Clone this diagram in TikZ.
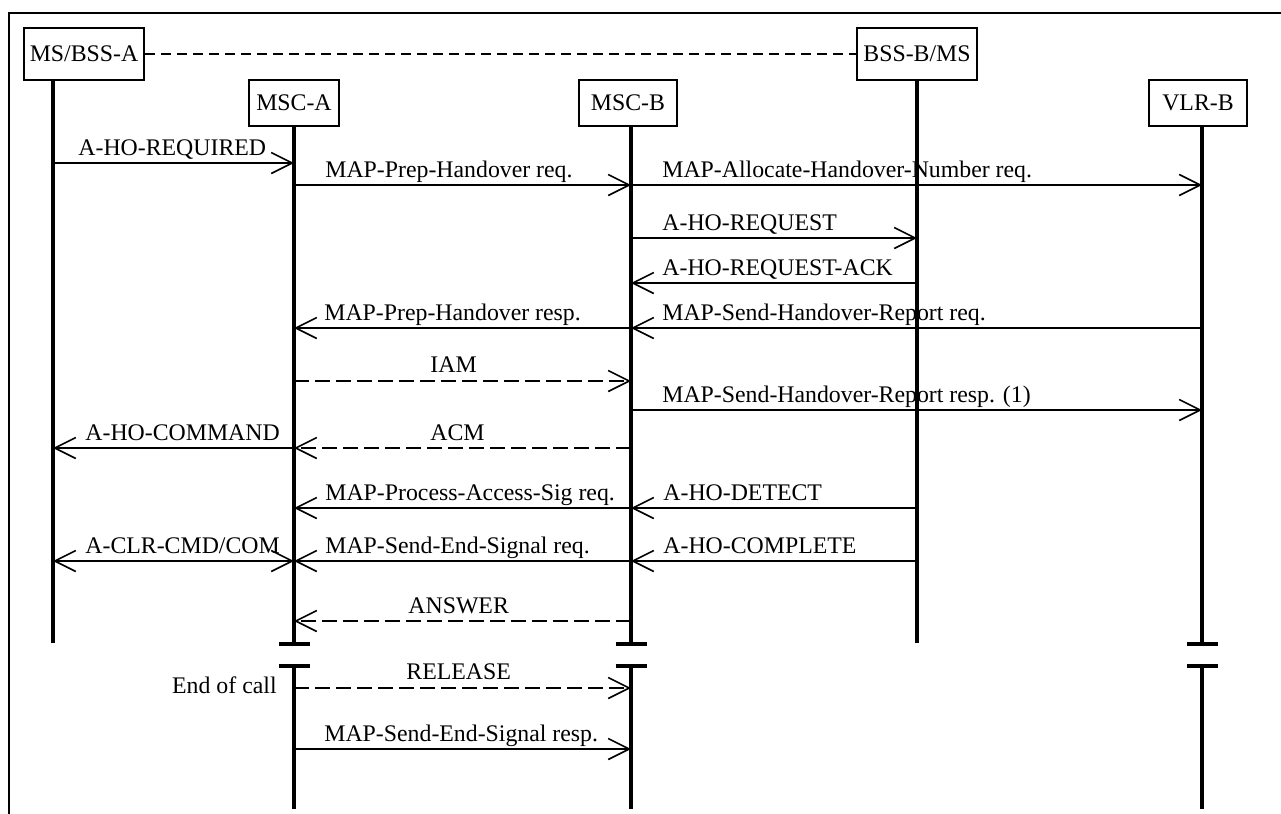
\documentclass[tikz,border=0pt]{standalone}
\usepackage{fontspec}
\setmainfont{Liberation Serif}
\usetikzlibrary{arrows.meta}
\begin{document}
\begin{tikzpicture}[x=0.5pt,y=-0.5pt,
  font=\fontsize{11.9}{14}\selectfont,
  ent/.style={draw,line width=1pt,inner sep=0pt,fill=white},
  bigent/.style={ent,minimum width=60pt,minimum height=26pt},
  smallent/.style={ent,minimum height=23pt},
  life/.style={line width=2.2pt,line cap=butt},
  bar/.style={line width=2pt,line cap=butt},
  barb/.tip={Straight Barb[length=10.5pt,width=10.5pt,line width=0.8pt]},
  msg/.style={line width=0.8pt,-barb},
  dmsg/.style={msg,dash pattern=on 7.5pt off 3pt},
  bimsg/.style={line width=0.8pt,barb-barb},
  lbl/.style={anchor=base west,inner sep=0pt}]
\useasboundingbox (0,0) rectangle (1281,814);
% frame
\draw[line width=0.9pt] (9,814) -- (9,13) -- (1281,13);
% entities
\node[bigent] (msa) at (84,54) {MS/BSS-A};
\node[smallent,minimum width=45pt] (mscA) at (294,103) {MSC-A};
\node[smallent,minimum width=49pt] (mscB) at (628,103) {MSC-B};
\node[bigent] (bssb) at (917,54) {BSS-B/MS};
\node[smallent,minimum width=49pt] (vlr) at (1198,103) {VLR-B};
\draw[line width=0.9pt,dash pattern=on 5pt off 3pt] (msa.east) -- (bssb.west);
% lifeline coordinates
\coordinate (LA) at (53,80);
\coordinate (LMA) at (294,126);
\coordinate (LMB) at (631,126);
\coordinate (LBB) at (917,80);
\coordinate (LV) at (1202,126);
\coordinate (EA) at (53,643);
\coordinate (EBB) at (917,643);
\coordinate (BMA1) at (294,644);
\coordinate (BMB1) at (631,644);
\coordinate (BV1) at (1202,644);
\coordinate (BMA2) at (294,666);
\coordinate (BMB2) at (631,666);
\coordinate (BV2) at (1202,666);
\coordinate (FMA) at (294,809);
\coordinate (FMB) at (631,809);
\coordinate (FV) at (1202,809);
% labels
\node[lbl] (t1) at (78,155) {A-HO-REQUIRED};
\node[lbl] (t2) at (325,177) {MAP-Prep-Handover req.};
\node[lbl] (t3) at (662,177) {MAP-Allocate-Handover-Number req.};
\node[lbl] (t4) at (662,230) {A-HO-REQUEST};
\node[lbl] (t5) at (662,275) {A-HO-REQUEST-ACK};
\node[lbl] (t6) at (324,320) {MAP-Prep-Handover resp.};
\node[lbl] (t7) at (662,320) {MAP-Send-Handover-Report req.};
\node[lbl] (t8) at (430,372) {IAM};
\node[lbl] (t9) at (662,402) {MAP-Send-Handover-Report resp. (1)};
\node[lbl] (t10) at (85,440) {A-HO-COMMAND};
\node[lbl] (t11) at (430,440) {ACM};
\node[lbl] (t12) at (325,500) {MAP-Process-Access-Sig req.};
\node[lbl] (t13) at (663,500) {A-HO-DETECT};
\node[lbl] (t14) at (85,553) {A-CLR-CMD/COM};
\node[lbl] (t15) at (325,553) {MAP-Send-End-Signal req.};
\node[lbl] (t16) at (663,553) {A-HO-COMPLETE};
\node[lbl] (t17) at (408,613) {ANSWER};
\node[lbl] (t18) at (406,679) {RELEASE};
\node[anchor=base east,inner sep=0pt] (t19) at (277,693) {End of call};
\node[lbl] (t20) at (324,741) {MAP-Send-End-Signal resp.};
% messages
\draw[msg] (LA |- 0,163) -- (LMA |- 0,163);
\draw[msg] (LMA |- 0,185) -- (LMB |- 0,185);
\draw[msg] (LMB |- 0,185) -- (LV |- 0,185);
\draw[msg] (LMB |- 0,238) -- (LBB |- 0,238);
\draw[msg] (LBB |- 0,283) -- (LMB |- 0,283);
\draw[msg] (LMB |- 0,328) -- (LMA |- 0,328);
\draw[msg] (LV |- 0,328) -- (LMB |- 0,328);
\draw[dmsg] (LMA |- 0,381) -- (LMB |- 0,381);
\draw[msg] (LMB |- 0,410) -- (LV |- 0,410);
\draw[msg] (LMA |- 0,448) -- (LA |- 0,448);
\draw[dmsg] (LMB |- 0,448) -- (LMA |- 0,448);
\draw[msg] (LMB |- 0,508) -- (LMA |- 0,508);
\draw[msg] (LBB |- 0,508) -- (LMB |- 0,508);
\draw[bimsg] (LA |- 0,561) -- (LMA |- 0,561);
\draw[msg] (LMB |- 0,561) -- (LMA |- 0,561);
\draw[msg] (LBB |- 0,561) -- (LMB |- 0,561);
\draw[dmsg] (LMB |- 0,621) -- (LMA |- 0,621);
\draw[dmsg] (LMA |- 0,688) -- (LMB |- 0,688);
\draw[msg] (LMA |- 0,749) -- (LMB |- 0,749);
% lifelines
\draw[life] (LA) -- (EA);
\draw[life] (LBB) -- (EBB);
\draw[life] (LMA) -- (BMA1);
\draw[life] (LMB) -- (BMB1);
\draw[life] (LV) -- (BV1);
\draw[life] (BMA2) -- (FMA);
\draw[life] (BMB2) -- (FMB);
\draw[life] (BV2) -- (FV);
% break bars
\foreach \c in {BMA1,BMA2,BMB1,BMB2,BV1,BV2}{
  \draw[bar] ([xshift=-7.75pt]\c) -- ([xshift=7.75pt]\c);
}
\end{tikzpicture}
\end{document}
